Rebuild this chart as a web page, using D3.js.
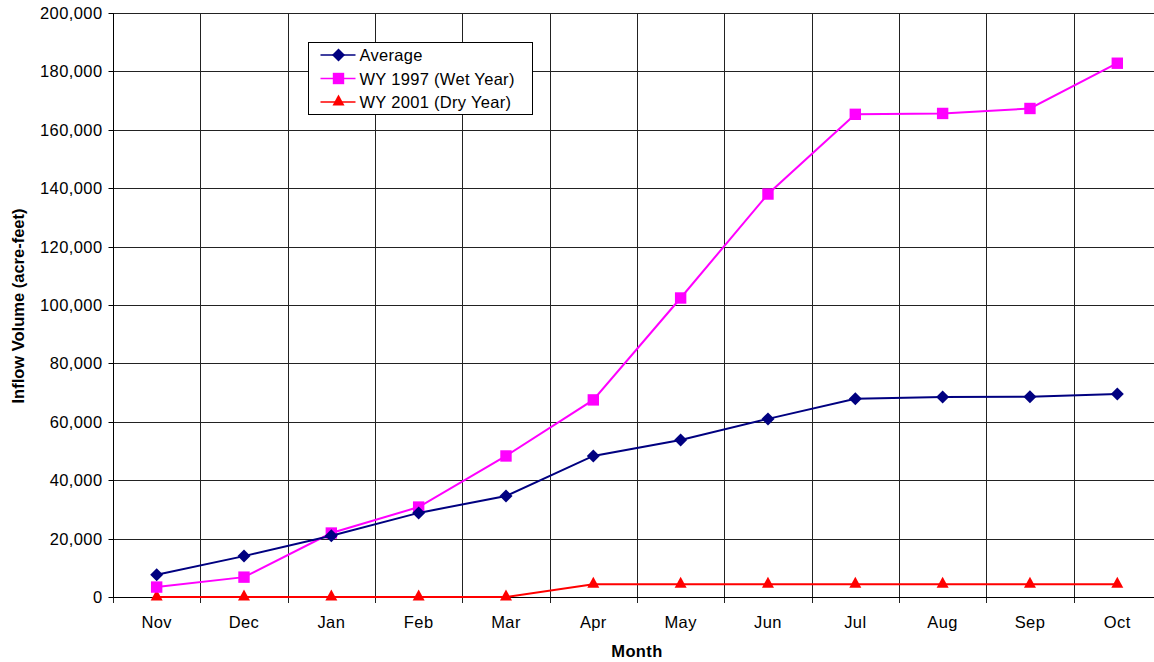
<!DOCTYPE html>
<html><head><meta charset="utf-8">
<script src="https://cdn.jsdelivr.net/npm/d3@7/dist/d3.min.js"></script>
<style>body{margin:0;background:#fff;overflow:hidden}svg{display:block}</style>
</head><body><svg id="c" width="1154" height="662"></svg>
<script>
const months = ["Nov","Dec","Jan","Feb","Mar","Apr","May","Jun","Jul","Aug","Sep","Oct"];
const average = [7600,14000,21000,28800,34600,48300,53800,61000,67900,68500,68600,69500];
const wet1997 = [3400,6800,21900,30800,48300,67500,102400,138000,165300,165600,167300,182800];
const dry2001 = [0,0,0,0,0,4400,4400,4400,4400,4400,4400,4400];
const yTicks = [0,20000,40000,60000,80000,100000,120000,140000,160000,180000,200000];
const seriesNames = ["Average","WY 1997 (Wet Year)","WY 2001 (Dry Year)"];

const svg = d3.select("#c");
const L = 113, T = 13, B = 597, R = 113 + 12*87.33;
const x = d3.scaleBand().domain(months).range([L, R]).padding(0);
const y = d3.scaleLinear().domain([0,200000]).range([B, T]);
const font = "Arial, 'Liberation Sans', sans-serif";
const FS = 16.5;

// gridlines
const g = svg.append("g");
g.selectAll(".hg").data(yTicks).join("line")
  .attr("x1", L).attr("x2", R).attr("y1", d=>Math.round(y(d))+0.5).attr("y2", d=>Math.round(y(d))+0.5)
  .attr("stroke", "#222").attr("stroke-width", 1);
const bounds = months.map((m,i)=>x(m)).concat([R]);
g.selectAll(".vg").data(bounds).join("line")
  .attr("x1", d=>Math.round(d)+0.5).attr("x2", d=>Math.round(d)+0.5).attr("y1", T).attr("y2", B+6)
  .attr("stroke", "#222").attr("stroke-width", 1);

// y axis
const ya = svg.append("g").attr("transform", `translate(${L+0.5},0.5)`)
  .call(d3.axisLeft(y).tickValues(yTicks).tickSize(5).tickPadding(6).tickFormat(d3.format(",")));
ya.select(".domain").attr("stroke","#000").attr("d", `M0,${T}V${B}`);
ya.selectAll("line").attr("stroke","#000");
ya.selectAll("text").attr("font-family", font).attr("font-size", FS).attr("fill","#000").attr("letter-spacing", 0.4).attr("dy","0.35em");
ya.selectAll(".tick").attr("transform", d=>`translate(0,${Math.round(y(d))})`);

// x axis
const xa = svg.append("g").attr("transform", `translate(0,${B+0.5})`)
  .call(d3.axisBottom(x).tickSize(0).tickPadding(19));
xa.select(".domain").attr("stroke","#000").attr("d", `M${L},0H${R}`);
xa.selectAll("text").attr("font-family", font).attr("font-size", FS).attr("fill","#000").attr("letter-spacing", 0.4);

// titles
svg.append("text").attr("x", 637).attr("y", 657).attr("text-anchor","middle")
  .attr("font-family", font).attr("font-size", FS).attr("font-weight","bold").attr("letter-spacing", 0.4).text("Month");
svg.append("text").attr("transform", `translate(24,306) rotate(-90)`).attr("text-anchor","middle")
  .attr("font-family", font).attr("font-size", FS).attr("font-weight","bold").text("Inflow Volume (acre-feet)");

const cx = m => x(m) + x.bandwidth()/2;
const line = d3.line().x((d,i)=>cx(months[i])).y(d=>y(d));
const diamond = "M0,-6.5L6.5,0L0,6.5L-6.5,0Z";
const series = [
  {name: seriesNames[0], vals: average, color: "#000080", path: diamond, dy: 0},
  {name: seriesNames[1], vals: wet1997, color: "#FF00FF", path: d3.symbol().type(d3.symbolSquare).size(130)(), dy: 0},
  {name: seriesNames[2], vals: dry2001, color: "#FF0000", path: "M0,-6.5L6,4.5L-6,4.5Z", dy: -1}
];
[series[2], series[1], series[0]].forEach(s=>{
  svg.append("path").datum(s.vals).attr("d", line).attr("fill","none").attr("stroke", s.color).attr("stroke-width", 2);
  svg.selectAll(null).data(s.vals).join("path")
    .attr("d", s.path)
    .attr("transform", (d,i)=>`translate(${cx(months[i])},${y(d) + s.dy})`)
    .attr("fill", s.color);
});

// legend
const lg = svg.append("g").attr("transform","translate(308.5,42.5)");
lg.append("rect").attr("width", 224).attr("height", 72).attr("fill","#fff").attr("stroke","#000");
series.forEach((s,i)=>{
  const yy = 12.5 + i*23.5;
  lg.append("line").attr("x1", 12).attr("x2", 47).attr("y1", yy).attr("y2", yy).attr("stroke", s.color).attr("stroke-width", 1.5);
  lg.append("path").attr("d", s.path).attr("transform", `translate(30,${yy + s.dy})`).attr("fill", s.color);
  lg.append("text").attr("x", 51).attr("y", yy+6).attr("font-family", font).attr("font-size", FS).attr("letter-spacing", 0.3).text(s.name);
});
</script></body></html>
